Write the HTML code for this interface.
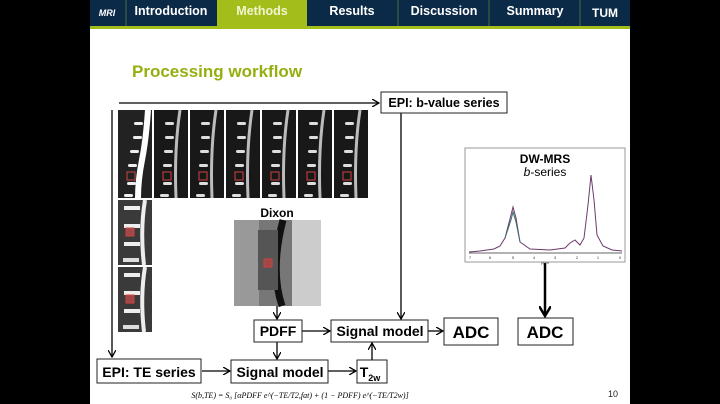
<!DOCTYPE html>
<html><head><meta charset="utf-8"><style>
html,body{margin:0;padding:0;background:#000;}
body{width:720px;height:404px;overflow:hidden;position:relative;font-family:"Liberation Sans",sans-serif;}
</style></head><body>
<svg width="720" height="404" viewBox="0 0 720 404" xmlns="http://www.w3.org/2000/svg" style="position:absolute;left:0;top:0">
<defs>
<marker id="a" markerWidth="8" markerHeight="8" refX="7" refY="4" orient="auto" markerUnits="userSpaceOnUse"><path d="M0,0 L7,4 L0,8" fill="none" stroke="#000" stroke-width="1.3"/></marker>
<marker id="b" markerWidth="12" markerHeight="12" refX="10" refY="6" orient="auto" markerUnits="userSpaceOnUse"><path d="M0,0 L10,6 L0,12" fill="none" stroke="#000" stroke-width="2.5"/></marker>
<g id="tile">
<rect width="34" height="88" fill="#181818"/>
<path d="M26 0 Q20 40 22 88" stroke="#bbb" stroke-width="3" fill="none"/>
<g fill="#ddd"><rect x="11" y="12" width="9" height="3" rx="1.5"/><rect x="11" y="26" width="9" height="3" rx="1.5"/><rect x="10" y="40" width="9" height="3" rx="1.5"/><rect x="9" y="54" width="9" height="3" rx="1.5"/><rect x="9" y="72" width="9" height="3" rx="1.5"/><rect x="6" y="84" width="9" height="3" rx="1.5"/></g>
<rect x="9" y="62" width="8" height="8" fill="none" stroke="#d04040" stroke-width="1"/>
</g>
<g id="tile1">
<rect width="34" height="88" fill="#222"/>
<path d="M30 0 Q28 30 24 50 Q20 70 20 88" stroke="#fff" stroke-width="6" fill="none"/>
<g fill="#eee"><rect x="16" y="12" width="9" height="3" rx="1.5"/><rect x="15" y="26" width="9" height="3" rx="1.5"/><rect x="12" y="40" width="9" height="3" rx="1.5"/><rect x="10" y="54" width="9" height="3" rx="1.5"/><rect x="9" y="72" width="9" height="3" rx="1.5"/><rect x="6" y="84" width="9" height="3" rx="1.5"/></g>
<rect x="9" y="62" width="8" height="8" fill="none" stroke="#d04040" stroke-width="1"/>
</g>
<g id="tile2">
<rect width="34" height="65" fill="#3a3a3a"/>
<path d="M27 0 Q22 30 26 65" stroke="#eee" stroke-width="4" fill="none"/>
<rect x="6" y="6" width="16" height="4" fill="#eee"/><rect x="6" y="24" width="16" height="4" fill="#eee"/><rect x="6" y="42" width="16" height="4" fill="#eee"/><rect x="5" y="58" width="16" height="4" fill="#ddd"/>
<rect x="8" y="28" width="8" height="8" fill="#a04848" stroke="#d04040"/>
</g>
</defs>
<rect x="90" y="0" width="540" height="404" fill="#fff"/>
<rect x="90" y="0" width="540" height="26" fill="#0b2a48"/>
<rect x="90" y="26" width="540" height="3" fill="#a3bd1b"/>
<rect x="217" y="0" width="90" height="27" fill="#a3bd1b"/>
<g stroke="#4a6a40" stroke-width="1"><line x1="126" y1="0" x2="126" y2="26"/><line x1="398" y1="0" x2="398" y2="26"/><line x1="489" y1="0" x2="489" y2="26"/><line x1="580" y1="0" x2="580" y2="26"/></g>
<g font-weight="bold" font-size="12.5" fill="#fff" text-anchor="middle">
<text x="107" y="16" font-size="9" font-style="italic">MRI</text>
<text x="171" y="15">Introduction</text>
<text x="262" y="15" fill="#f4f4d0">Methods</text>
<text x="352" y="15">Results</text>
<text x="444" y="15">Discussion</text>
<text x="535" y="15">Summary</text>
<text x="605" y="17" font-size="12">TUM</text>
</g>
<text x="132" y="77" font-size="17" font-weight="bold" fill="#94b010">Processing workflow</text>
<use href="#tile1" x="118" y="110"/><use href="#tile" x="154" y="110"/><use href="#tile" x="190" y="110"/><use href="#tile" x="226" y="110"/><use href="#tile" x="262" y="110"/><use href="#tile" x="298" y="110"/><use href="#tile" x="334" y="110"/>
<use href="#tile2" x="118" y="200"/><use href="#tile2" x="118" y="267"/>
<text x="277" y="217" font-size="12" font-weight="bold" text-anchor="middle">Dixon</text>
<rect x="234" y="220" width="87" height="86" fill="#777"/>
<rect x="234" y="220" width="25" height="86" fill="#999"/>
<rect x="292" y="220" width="29" height="86" fill="#ccc"/>
<path d="M283 220 Q270 270 282 306" stroke="#111" stroke-width="7" fill="none"/>
<rect x="258" y="230" width="20" height="60" fill="#555"/>
<rect x="264" y="259" width="8" height="8" fill="#a04848" stroke="#d04040"/>
<g stroke="#000" stroke-width="1.3" fill="none">
<line x1="119" y1="103" x2="379" y2="103" marker-end="url(#a)"/>
<line x1="112" y1="110" x2="112" y2="357" marker-end="url(#a)"/>
<line x1="401" y1="113" x2="401" y2="319" marker-end="url(#a)"/>
<line x1="277" y1="306" x2="277" y2="319" marker-end="url(#a)"/>
<line x1="302" y1="331" x2="330" y2="331" marker-end="url(#a)"/>
<line x1="428" y1="331" x2="443" y2="331" marker-end="url(#a)"/>
<line x1="277" y1="342" x2="277" y2="359" marker-end="url(#a)"/>
<line x1="202" y1="371" x2="230" y2="371" marker-end="url(#a)"/>
<line x1="328" y1="371" x2="356" y2="371" marker-end="url(#a)"/>
<line x1="372" y1="360" x2="372" y2="343" marker-end="url(#a)"/>
</g>
<line x1="545" y1="263" x2="545" y2="316" stroke="#000" stroke-width="2.5" marker-end="url(#b)"/>
<g fill="#fff" stroke="#222" stroke-width="1">
<rect x="381" y="92" width="126" height="21"/>
<rect x="254" y="320" width="48" height="22"/>
<rect x="331" y="320" width="97" height="22"/>
<rect x="444" y="318" width="54" height="27"/>
<rect x="518" y="318" width="55" height="27"/>
<rect x="97" y="359" width="104" height="24"/>
<rect x="231" y="360" width="97" height="23"/>
<rect x="357" y="360" width="30" height="23"/>
<rect x="465" y="148" width="160" height="114" stroke="#999"/>
</g>
<g font-weight="bold" fill="#000" text-anchor="middle">
<text x="444" y="107" font-size="12.5">EPI: b-value series</text>
<text x="278" y="336" font-size="14">PDFF</text>
<text x="380" y="336" font-size="14">Signal model</text>
<text x="471" y="338" font-size="17">ADC</text>
<text x="545" y="338" font-size="17">ADC</text>
<text x="149" y="377" font-size="14">EPI: TE  series</text>
<text x="280" y="377" font-size="14">Signal model</text>
<text x="370" y="377" font-size="14">T<tspan font-size="9" dy="4">2w</tspan></text>
<text x="545" y="163" font-size="12">DW-MRS</text>
</g>
<text x="545" y="176" font-size="12" text-anchor="middle"><tspan font-style="italic">b</tspan>-series</text>
<line x1="469" y1="253" x2="622" y2="253" stroke="#333" stroke-width="0.8"/>
<path d="M469 252 L480 251 L494 249 L500 246 L505 238 L511 215 L513 207 L516 218 L520 242 L530 249 L550 250 L565 248 L570 243 L575 240 L580 245 L584 238 L588 205 L591 175 L594 200 L597 235 L603 246 L612 250 L622 251" fill="none" stroke="#6b3a6b" stroke-width="1"/>
<path d="M505 238 L511 220 L513 212 L516 222 L520 242" fill="none" stroke="#3a7070" stroke-width="1"/>
<g font-size="4" text-anchor="middle" fill="#333"><text x="470" y="259">7</text><text x="490" y="259">6</text><text x="513" y="259">5</text><text x="534" y="259">4</text><text x="555" y="259">3</text><text x="577" y="259">2</text><text x="598" y="259">1</text><text x="620" y="259">0</text><text x="545" y="264">ppm</text></g>
<text x="300" y="398" font-size="8" font-family="Liberation Serif" font-style="italic" text-anchor="middle">S(b,TE) = S₀ [αPDFF e^(−TE/T2,fat) + (1 − PDFF) e^(−TE/T2w)]</text>
<text x="608" y="397" font-size="9" fill="#222">10</text>
</svg>
</body></html>
